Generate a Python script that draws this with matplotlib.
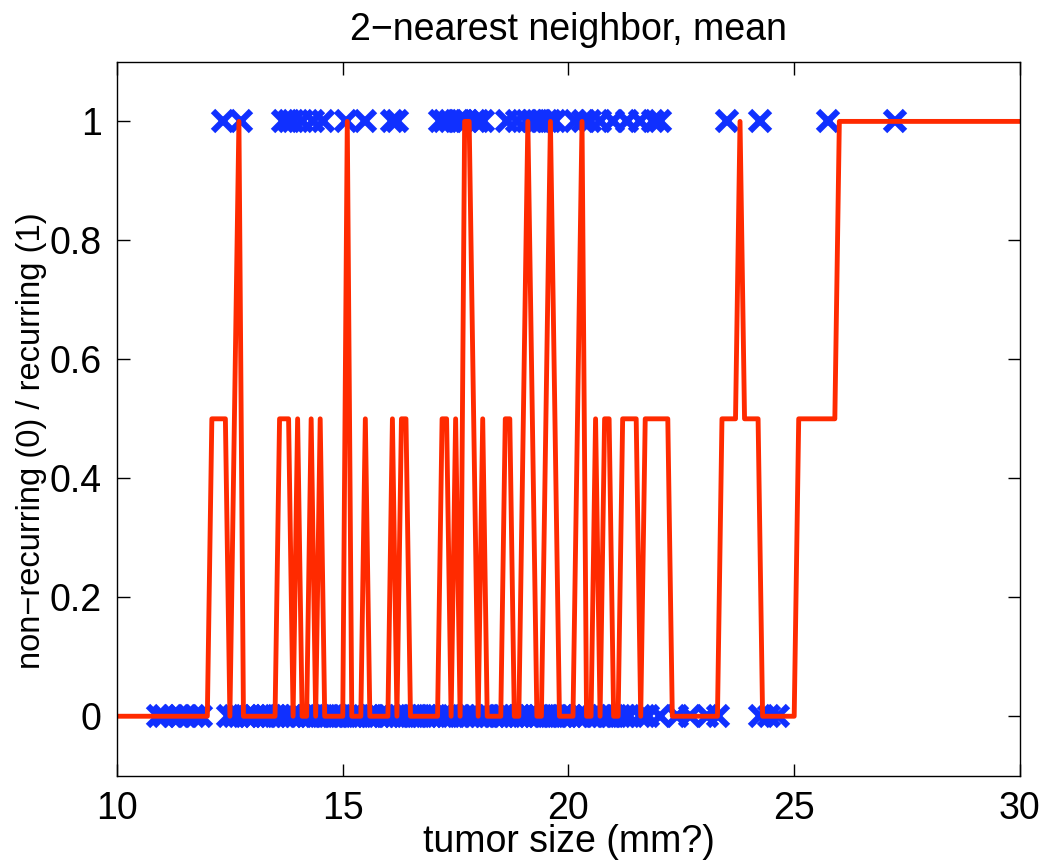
import matplotlib
matplotlib.use("Agg")
import matplotlib.pyplot as plt
import numpy as np

plt.rcParams['font.family'] = ['Liberation Sans', 'DejaVu Sans']

# tumor sizes of recurring cases (label 1)
recurring_x = [12.35, 12.75, 13.68, 13.8, 13.9, 14.1, 14.34, 14.56, 15.07, 15.49,
               16.1, 16.2, 17.15, 17.25, 17.38, 17.55, 17.65, 17.75, 17.93, 18.0,
               18.11, 18.64, 18.86, 19.08, 19.2, 19.3, 19.4, 19.52, 19.6, 19.7,
               20.14, 20.32, 20.48, 20.7, 20.99, 21.3, 21.58, 21.87, 22.03,
               23.51, 24.24, 25.75, 27.23]

# tumor sizes of non-recurring cases (label 0)
nonrecurring_x = [10.9, 11.05, 11.25, 11.4, 11.55, 11.7, 11.85,
                  12.45, 12.6, 12.7, 12.85, 12.95, 13.05, 13.2, 13.3, 13.4, 13.5, 13.62,
                  13.75, 13.85, 13.95, 14.05, 14.2, 14.3, 14.42, 14.5, 14.6, 14.7, 14.8,
                  14.9, 15.0, 15.12, 15.2, 15.3, 15.4, 15.55, 15.62, 15.7, 15.8, 15.92,
                  16.0, 16.15, 16.25, 16.35, 16.42, 16.55, 16.65, 16.75, 16.85, 16.95,
                  17.05, 17.2, 17.3, 17.45, 17.6, 17.7, 17.82, 17.9, 18.05, 18.15, 18.25,
                  18.35, 18.45, 18.55, 18.7, 18.8, 18.9, 19.0, 19.15, 19.25, 19.35,
                  19.45, 19.55, 19.65, 19.75, 19.85, 19.95, 20.05, 20.2, 20.3, 20.4,
                  20.55, 20.62, 20.75, 20.85, 20.95, 21.05, 21.15, 21.25, 21.35,
                  21.58, 21.76, 22.03, 22.4, 22.69, 23.07, 23.31, 24.24, 24.45, 24.64]

# 2-nearest neighbor mean, evaluated on 10:0.1:30
grid_x = np.linspace(10, 30, 201)
knn_mean = [0, 0, 0, 0, 0, 0, 0, 0, 0, 0, 0, 0, 0, 0, 0, 0, 0, 0, 0, 0,          # 10.0-11.9
            0, .5, .5, .5, .5, 0, .5, 1, 0, 0, 0, 0, 0, 0, 0, 0, .5, .5, .5, 0,   # 12.0-13.9
            .5, 0, 0, .5, 0, .5, 0, 0, 0, 0, 0, 1, 0, 0, 0, .5, 0, 0, 0, 0,      # 14.0-15.9
            0, .5, 0, .5, .5, 0, 0, 0, 0, 0, 0, 0, .5, .5, 0, .5, 0, 1, 1, .5,    # 16.0-17.9
            0, .5, 0, 0, 0, 0, .5, .5, 0, 0, .5, 1, .5, 0, 0, .5, 1, .5, 0, 0,    # 18.0-19.9
            0, 0, .5, 1, 0, 0, .5, 0, .5, .5, 0, 0, .5, .5, .5, .5, 0, .5, .5, .5,  # 20.0-21.9
            .5, .5, .5, 0, 0, 0, 0, 0, 0, 0, 0, 0, 0, 0, .5, .5, .5, .5, 1, .5,   # 22.0-23.9
            .5, .5, .5, 0, 0, 0, 0, 0, 0, 0, 0, .5, .5, .5, .5, .5, .5, .5, .5, .5,  # 24.0-25.9
            1, 1, 1, 1, 1, 1, 1, 1, 1, 1, 1, 1, 1, 1, 1, 1, 1, 1, 1, 1,           # 26.0-27.9
            1, 1, 1, 1, 1, 1, 1, 1, 1, 1, 1, 1, 1, 1, 1, 1, 1, 1, 1, 1,           # 28.0-29.9
            1]

fig = plt.figure(figsize=(10.45, 8.6), dpi=100)
ax = fig.add_axes([0.112, 0.098, 0.864, 0.830])

ax.plot(recurring_x, np.ones(len(recurring_x)), 'x', color='#1030ff',
        markersize=15, markeredgewidth=4.5)
ax.plot(nonrecurring_x, np.zeros(len(nonrecurring_x)), 'x', color='#1030ff',
        markersize=15, markeredgewidth=4.5)
ax.plot(grid_x, knn_mean, '-', color='#ff2a00', linewidth=3.5)

ax.set_xlim(10, 30)
ax.set_ylim(-0.1, 1.1)
ax.set_xticks([10, 15, 20, 25, 30])
ax.set_yticks([0, 0.2, 0.4, 0.6, 0.8, 1])
ax.set_yticklabels(['0', '0.2', '0.4', '0.6', '0.8', '1'])
ax.tick_params(direction='in', length=9, width=1, top=True, right=True,
               labelsize=27, pad=11)
for s in ax.spines.values():
    s.set_linewidth(1)

ax.set_title('2\u2212nearest neighbor, mean', fontsize=27, pad=16)
ax.set_xlabel('tumor size (mm?)', fontsize=27, labelpad=-2)
ax.set_ylabel('non\u2212recurring (0) / recurring (1)', fontsize=23.5)
ax.yaxis.set_label_coords(-0.078, 0.47)

fig.savefig('out.png', dpi=100)
